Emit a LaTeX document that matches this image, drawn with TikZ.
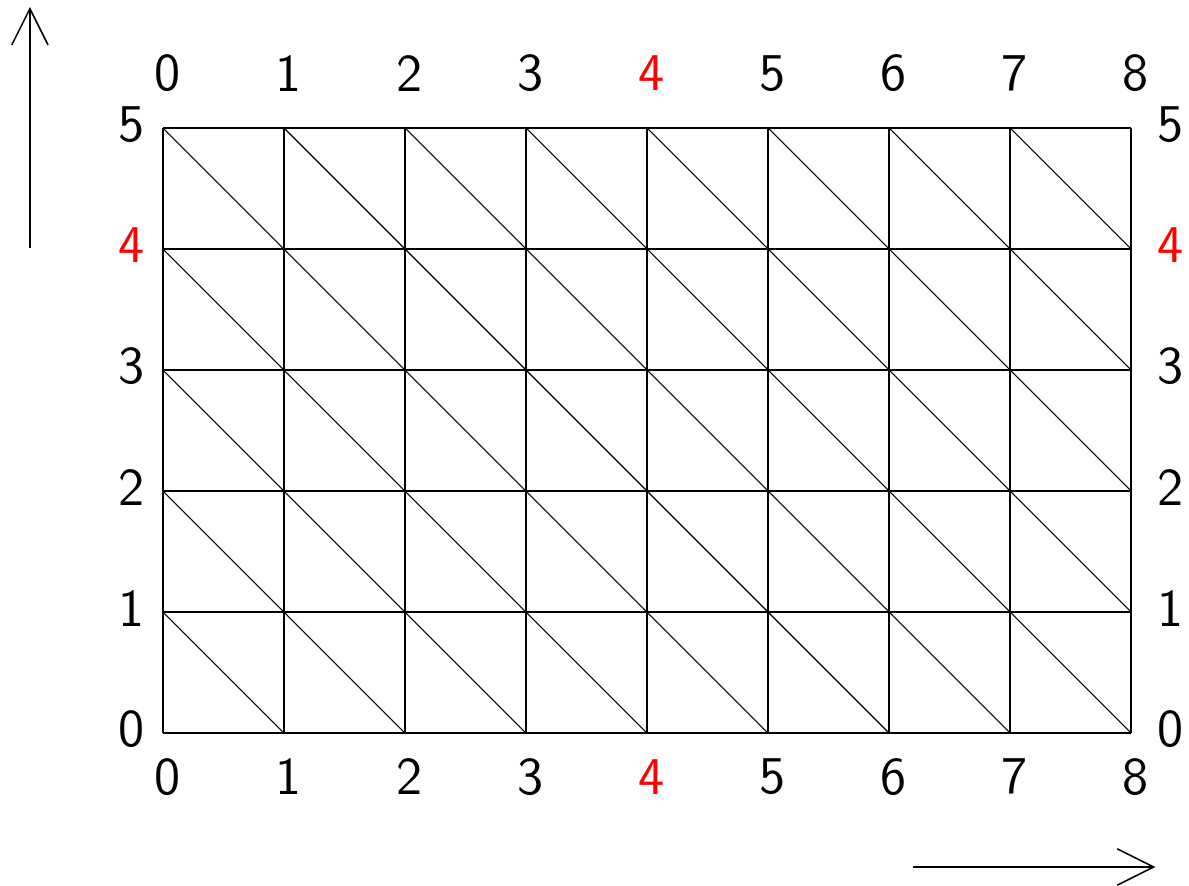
\documentclass[tikz,border=0pt]{standalone}
\usetikzlibrary{arrows.meta}
\begin{document}
\begin{tikzpicture}[
    gridline/.style={line width=0.45pt, black},
    diagline/.style={line width=0.25pt, black},
    lbl/.style={font=\sffamily\fontsize{12.5}{15}\selectfont, inner sep=0pt},
    axisarrow/.style={-{Straight Barb[length=3mm,width=3mm]}, line width=0.35pt}
]
    \useasboundingbox (-1.347,-1.264) rectangle (8.479,6.058);

    % Mesh: squares split by diagonals
    \draw[gridline] (0,0) grid (8,5);
    \foreach \i in {0,...,7}
        \foreach \j in {0,...,4}
            \draw[diagline] (\i,\j+1) -- (\i+1,\j);

    % Column numbers above and below
    \foreach \i/\c in {0/black,1/black,2/black,3/black,4/red,5/black,6/black,7/black,8/black} {
        \node[lbl, text=\c] (top\i) at (\i+0.04,5.45) {\i};
        \node[lbl, text=\c] (bot\i) at (\i+0.04,-0.36) {\i};
    }

    % Row numbers left and right
    \foreach \j/\c in {0/black,1/black,2/black,3/black,4/red,5/black} {
        \node[lbl, text=\c] (left\j) at (-0.26,\j+0.03) {\j};
        \node[lbl, text=\c] (right\j) at (8.33,\j+0.03) {\j};
    }

    % Direction arrows
    \coordinate (upstart) at (-1.1,4.01);
    \coordinate (upend) at (-1.1,6.0);
    \coordinate (rightstart) at (6.2,-1.107);
    \coordinate (rightend) at (8.2,-1.107);
    \draw[axisarrow] (upstart) -- (upend);
    \draw[axisarrow] (rightstart) -- (rightend);
\end{tikzpicture}
\end{document}
